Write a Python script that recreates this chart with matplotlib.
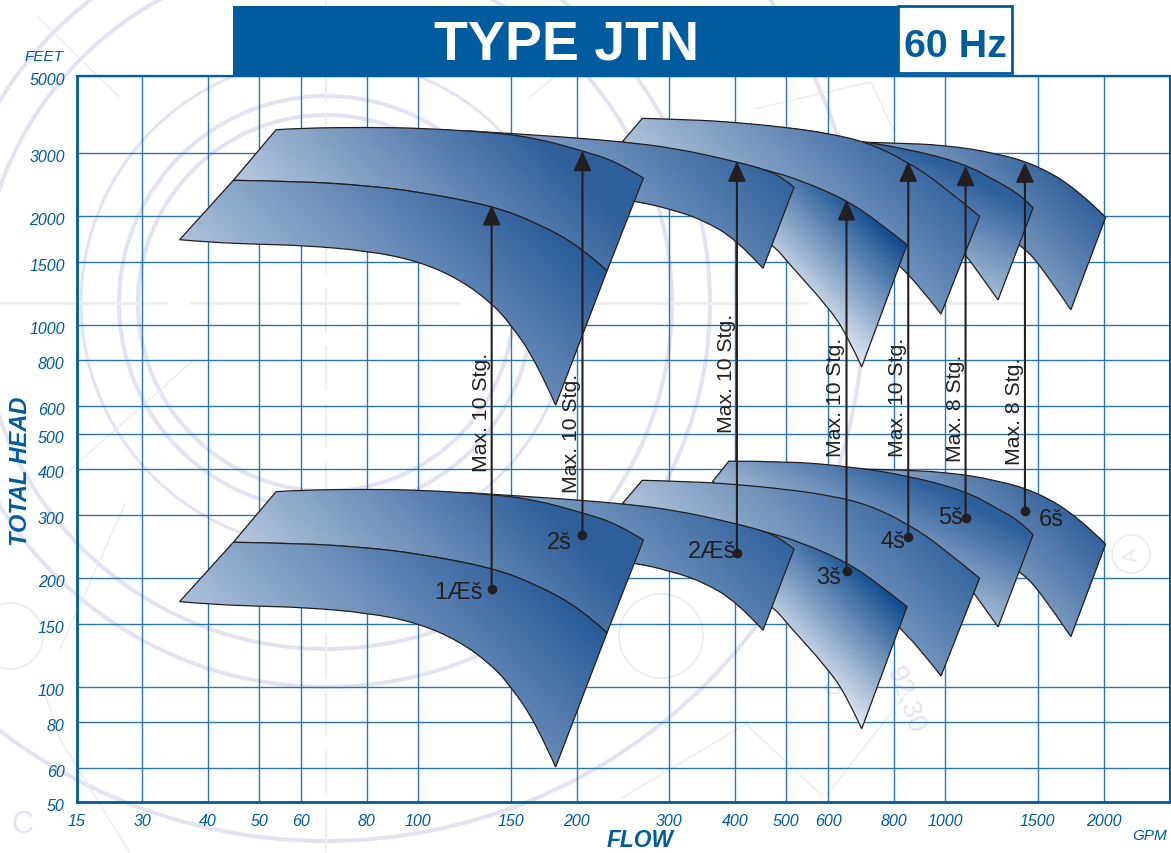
# Type JTN 60 Hz pump coverage chart, flow vs total head on log axes

import numpy as np
import matplotlib
matplotlib.use("Agg")
import matplotlib.pyplot as plt
from matplotlib.colors import LinearSegmentedColormap
from matplotlib.patches import Circle, PathPatch, Rectangle
from matplotlib.path import Path
from matplotlib.ticker import FixedLocator, FixedFormatter, NullLocator
from matplotlib.transforms import ScaledTranslation

plt.rcParams["font.family"] = ["Liberation Sans", "DejaVu Sans"]

BLUE = "#005b9f"
GRID = "#2a76b4"
INK = "#231f20"
LAVENDER = "#e3e2f1"
PALE = "#e9ebee"

# Axis ticks ("15", "5000" and "50" sit on the frame of the chart)
x_ticks = [22.5, 30, 40, 50, 60, 80, 100, 150, 200, 300, 400, 500, 600, 800, 1000, 1500, 2000]
x_tick_labels = ["15", "30", "40", "50", "60", "80", "100", "150", "200", "300", "400", "500",
                 "600", "800", "1000", "1500", "2000"]
y_ticks = [48.1, 60, 80, 100, 150, 200, 300, 400, 500, 600, 800, 1000, 1500, 2000, 3000, 4875]
y_tick_labels = ["50", "60", "80", "100", "150", "200", "300", "400", "500", "600", "800", "1000",
                 "1500", "2000", "3000", "5000"]

# Model ranges, heads are the max stage heads of the upper row in feet
a_upper_flow = [44.65, 60.1, 80.2, 100, 138, 167.3, 204.5, 228.4]
a_upper_head = [2515, 2499, 2430, 2339, 2140, 1925, 1642, 1413]
a_lower_flow = [35.3, 40.2, 49.9, 60.1, 80.2, 100, 119.7, 138, 149.8, 167.3, 182.5]
a_lower_head = [1724, 1696, 1674, 1663, 1607, 1505, 1342, 1152, 1008, 798, 602]

b_upper_flow = [53.8, 60.1, 80.2, 100, 138, 167.3, 205.2, 239.4, 267.8]
b_upper_head = [3470, 3508, 3524, 3508, 3413, 3292, 3035, 2825, 2552]

c_upper_flow = [123.3, 167.3, 203, 243.4, 306.7, 399.5, 463.4, 495, 517]
c_upper_head = [3449, 3355, 3286, 3215, 3089, 2838, 2674, 2536, 2406]
c_lower_flow = [203, 257.9, 300.2, 344.4, 403, 451.5]
c_lower_head = [2306, 2209, 2096, 1966, 1724, 1437]

d_upper_flow = [243.4, 306.7, 399.5, 463.4, 530.7, 650.3, 752.9, 847.1]
d_upper_head = [3210, 3069, 2825, 2674, 2520, 2219, 1917, 1670]
d_lower_flow = [408.3, 471.3, 500, 600, 650.3, 695]
d_lower_head = [1905, 1677, 1508, 1124, 946, 768]

e_upper_flow = [266.5, 333, 399.5, 499, 600, 712.2, 847.1, 991.3, 1163]
e_upper_head = [3731, 3698, 3637, 3524, 3393, 3203, 2838, 2430, 2000]
e_lower_flow = [244.2, 342.9, 530.7, 689.9, 825.2, 982.7]
e_lower_head = [3215, 2790, 2233, 1731, 1496, 1074]

f_upper_flow = [389, 499, 650.3, 851, 1091, 1249, 1400, 1469]
f_upper_head = [3371, 3371, 3265, 3075, 2790, 2509, 2280, 2109]
f_lower_flow = [361.8, 530.7, 752.9, 1000, 1091, 1169, 1261]
f_lower_head = [2954, 2096, 2030, 1787, 1574, 1371, 1175]

g_upper_flow = [683.9, 799.5, 999, 1250, 1505, 1796, 2017]
g_upper_head = [3209, 3189, 3148, 2992, 2760, 2354, 1987]
g_lower_flow = [978, 1272, 1390, 1505, 1733]
g_lower_head = [2536, 1822, 1666, 1493, 1104]

# Operating points and stage limits
stage_names = ["1Æš", "2š", "2Æš", "3š", "4š", "5š", "6š"]
op_flow = [138, 205.2, 402.9, 650.3, 851.6, 1094, 1418]
op_head = [186.5, 263.9, 235, 209.9, 260.6, 293.6, 307.5]
tip_head = [2149, 3035, 2838, 2219, 2838, 2760, 2820]
max_labels = ["Max. 10 Stg.", "Max. 10 Stg.", "Max. 10 Stg.", "Max. 10 Stg.", "Max. 10 Stg.",
              "Max. 8 Stg.", "Max. 8 Stg."]
max_label_head = [396, 346, 507, 436, 436, 422, 414]

# Label offsets from the dots, in pixels
name_dx = [-8.8, -10.5, -1, -5.5, -3, -3, 39]
name_dy = [2.7, 7, -2, 6, 4, -1, 8]

# Upper, lower, stages, gradient tilt, start, end, light colour, dark colour (back to front)
regions = [
    (g_upper_flow, g_upper_head, g_lower_flow, g_lower_head, 8, 1, 740, 900, "#86a2c4", "#2b5c99"),
    (f_upper_flow, f_upper_head, f_lower_flow, f_lower_head, 8, 2, 396, 615, "#a8bcd6", "#2c5e9b"),
    (e_upper_flow, e_upper_head, e_lower_flow, e_lower_head, 10, 1, 500, 780, "#a8bdd6", "#2f609c"),
    (d_upper_flow, d_upper_head, d_lower_flow, d_lower_head, 10, 1, 494, 660, "#e4eaf2", "#0f4a8e"),
    (c_upper_flow, c_upper_head, c_lower_flow, c_lower_head, 10, 1, 400, 600, "#7a9bc1", "#33639e"),
    (b_upper_flow, b_upper_head, a_upper_flow, a_upper_head, 10, 1, 51, 400, "#b8c9de", "#2f5f9b"),
    (a_upper_flow, a_upper_head, a_lower_flow, a_lower_head, 10, 1, -60, 335, "#aec2db", "#285a98"),
]


def curve(flow, head, divisor):
    # Smooth quadratic pieces through the midpoints of the read points
    pts = np.column_stack([flow, np.array(head, dtype=float) / divisor])
    verts = [pts[0]]
    codes = []
    for i in range(1, len(pts) - 1):
        end = pts[i + 1] if i == len(pts) - 2 else np.sqrt(pts[i] * pts[i + 1])
        verts += [pts[i], end]
        codes += [Path.CURVE3, Path.CURVE3]
    return verts, codes


def draw_region(ax, region, divisor, z):
    uf, uh, lf, lh, stages, tilt, lo, hi, light, dark = region
    uv, uc = curve(uf, uh, divisor)
    lv, lc = curve(lf[::-1], lh[::-1], divisor)
    verts = uv + lv + [uv[0]]
    codes = [Path.MOVETO] + uc + [Path.LINETO] + lc + [Path.CLOSEPOLY]
    outline = PathPatch(Path(verts, codes), facecolor="none", edgecolor=INK, lw=0.9, zorder=z + 0.5)
    ax.add_patch(outline)

    # Gradient runs along the chart's diagonal, measured on the upper row
    flows = np.geomspace(min(uf + lf), max(uf + lf), 40)
    heads = np.geomspace(min(uh + lh), max(uh + lh), 40)
    xx, yy = np.meshgrid(flows, heads)
    px = ax.transData.transform(np.column_stack([xx.ravel(), yy.ravel()]))
    diag = (px[:, 0] + tilt * (px[:, 1] - fig.bbox.height)).reshape(xx.shape)
    shade = np.clip((diag - lo) / (hi - lo), 0, 1)
    cmap = LinearSegmentedColormap.from_list("fade", [light, dark])
    mesh = ax.pcolormesh(xx, yy / divisor, shade, cmap=cmap, vmin=0, vmax=1, shading="gouraud", zorder=z)
    mesh.set_clip_path(outline)


fig = plt.figure(figsize=(11.71, 8.54), dpi=100)

# Faint drawing behind the chart
bg = fig.add_axes([0, 0, 1, 1], zorder=0)
bg.set_xlim(0, 1171)
bg.set_ylim(854, 0)
bg.axis("off")
for r, width, col in [(188, 4, LAVENDER), (207, 4, LAVENDER), (245, 3, LAVENDER), (346, 4, LAVENDER),
                      (384, 4, LAVENDER), (538, 4, LAVENDER)]:
    bg.add_patch(Circle((326, 304), r, fill=False, edgecolor=col, lw=width * 0.72))
for cx, cy, r in [(661, 637, 42), (1131, 555, 19), (10, 637, 33)]:
    bg.add_patch(Circle((cx, cy), r, fill=False, edgecolor=PALE, lw=1.2))
for x0, y0, x1, y1 in [(0, 304, 166, 304), (191, 304, 459, 304), (580, 304, 807, 304), (886, 304, 1022, 304)]:
    bg.plot([x0, x1], [y0, y1], color="#efeeef", lw=2)
bg.plot([326, 326], [0, 854], color="#efeeef", lw=1.6, ls=(0, (20, 6)))
for xs, ys in [([38, 119], [18, 98]), ([530, 555], [98, 77]), ([754, 871, 894], [110, 83, 133]),
               ([40, 60, 130], [680, 740, 854]), ([620, 746, 822], [800, 725, 797]),
               ([60, 195], [480, 360]), ([826, 910], [797, 690]), ([60, 125], [650, 505])]:
    bg.plot(xs, ys, color=PALE, lw=1)
bg.text(1131, 555, "A", color=PALE, fontsize=15, rotation=100, ha="center", va="center")
bg.text(22, 825, "C", color=LAVENDER, fontsize=22, ha="center", va="center")
bg.text(905, 700, "92.30", color=LAVENDER, fontsize=20, rotation=-70, ha="center", va="center")
bg.text(828, 680, "P", color=PALE, fontsize=20, rotation=180, ha="center", va="center")

# Main chart
ax = fig.add_axes([76.5 / 1171, 1 - 803.3 / 854, (1169.8 - 76.5) / 1171, (803.3 - 77.3) / 854], zorder=1)
ax.patch.set_alpha(0)
ax.set_xscale("log")
ax.set_yscale("log")
ax.set_xlim(22.5, 2670)
ax.set_ylim(48.1, 4875)
ax.autoscale(False)

ax.xaxis.set_major_locator(FixedLocator(x_ticks))
ax.xaxis.set_major_formatter(FixedFormatter(x_tick_labels))
ax.yaxis.set_major_locator(FixedLocator(y_ticks))
ax.yaxis.set_major_formatter(FixedFormatter(y_tick_labels))
ax.xaxis.set_minor_locator(NullLocator())
ax.yaxis.set_minor_locator(NullLocator())
ax.tick_params(length=0, labelsize=11.5, labelcolor=BLUE, pad=8)
ax.tick_params(axis="y", pad=8.5)
for lab in ax.get_xticklabels() + ax.get_yticklabels():
    lab.set_style("italic")
for lab in ax.get_yticklabels():
    lab.set_transform(lab.get_transform() + ScaledTranslation(0, -2 / 100, fig.dpi_scale_trans))
ax.grid(True, color=GRID, lw=1.0, zorder=1)
ax.set_axisbelow(True)
for side, width in [("left", 2), ("bottom", 2), ("top", 1.6), ("right", 1.4)]:
    ax.spines[side].set_color(BLUE)
    ax.spines[side].set_linewidth(width)

# Both rows of coverage areas, the lower row is the one stage head
for i, region in enumerate(regions):
    draw_region(ax, region, 1, 5 + i)
    draw_region(ax, region, region[4], 5 + i)

# Arrows from the one stage point up to the max stage point
for i in range(len(stage_names)):
    ax.annotate("", xy=(op_flow[i], tip_head[i]), xytext=(op_flow[i], op_head[i]), zorder=30,
                arrowprops=dict(arrowstyle="-|>,head_length=0.87,head_width=0.39", mutation_scale=14,
                                color=INK, lw=1.5, shrinkA=0, shrinkB=0))
    ax.plot(op_flow[i], op_head[i], "o", color=INK, ms=6, zorder=31)
    ax.annotate(stage_names[i], xy=(op_flow[i], op_head[i]), xytext=(name_dx[i] * 0.72, -name_dy[i] * 0.72),
                textcoords="offset points", ha="right", va="center", fontsize=17, color=INK, zorder=32)
    ax.annotate(max_labels[i], xy=(op_flow[i], max_label_head[i]), xytext=(-7.6, 0),
                textcoords="offset points", rotation=90, ha="center", va="bottom",
                fontsize=15.3, color=INK, zorder=32)

# Title band and frequency box
fig.patches.append(Rectangle((233 / 1171, 1 - 77.7 / 854), 664.6 / 1171, 70.7 / 854, transform=fig.transFigure,
                             facecolor=BLUE, edgecolor="none", zorder=3))
fig.patches.append(Rectangle((897.6 / 1171, 1 - 74 / 854), 114.4 / 1171, 67.3 / 854, transform=fig.transFigure,
                             facecolor="white", edgecolor=BLUE, lw=2, zorder=3))
fig.text(567 / 1171, 1 - 60 / 854, "TYPE JTN", color="white", fontsize=40, fontweight="bold",
         ha="center", va="baseline", zorder=4)
fig.text(955.5 / 1171, 1 - 56.7 / 854, "60 Hz", color=BLUE, fontsize=28.4, fontweight="bold",
         ha="center", va="baseline", zorder=4)

# Axis captions
fig.text(44 / 1171, 1 - 57 / 854, "FEET", color=BLUE, fontsize=11, style="italic", ha="center", va="center")
fig.text(1150 / 1171, 1 - 836 / 854, "GPM", color=BLUE, fontsize=11, style="italic", ha="center", va="center")
fig.text(640.5 / 1171, 1 - 841 / 854, "FLOW", color=BLUE, fontsize=16.4, style="italic", fontweight="bold",
         ha="center", va="center")
fig.text(21 / 1171, 1 - 471 / 854, "TOTAL HEAD", color=BLUE, fontsize=17, style="italic", fontweight="bold",
         rotation=90, ha="center", va="center")

fig.savefig("out.png", dpi=100)
